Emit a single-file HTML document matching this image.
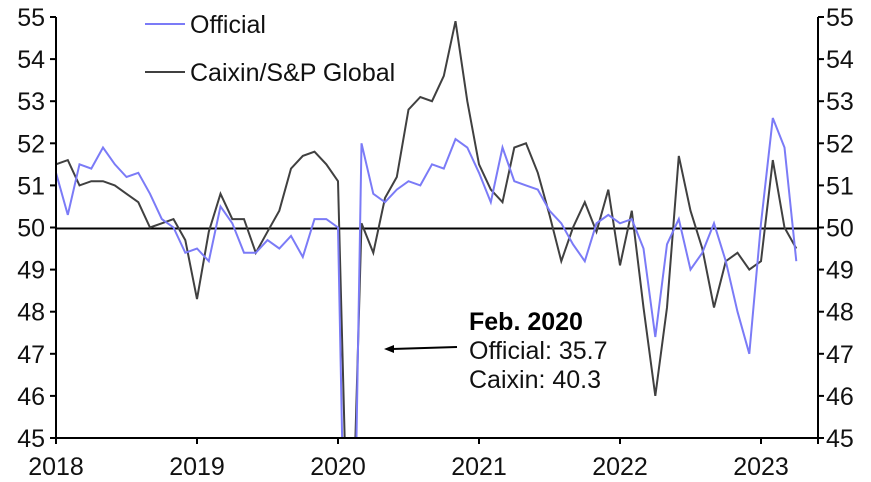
<!DOCTYPE html>
<html><head><meta charset="utf-8"><style>
html,body{margin:0;padding:0;background:#fff;overflow:hidden;width:871px;height:482px;}
svg{display:block;font-family:"Liberation Sans",sans-serif;}
</style></head><body>
<svg id="c" width="871" height="482" xmlns="http://www.w3.org/2000/svg"></svg>
<script>
const off=[51.3,50.3,51.5,51.4,51.9,51.5,51.2,51.3,50.8,50.2,50.0,49.4,
49.5,49.2,50.5,50.1,49.4,49.4,49.7,49.5,49.8,49.3,50.2,50.2,
50.0,35.7,52.0,50.8,50.6,50.9,51.1,51.0,51.5,51.4,52.1,51.9,
51.3,50.6,51.9,51.1,51.0,50.9,50.4,50.1,49.6,49.2,50.1,50.3,
50.1,50.2,49.5,47.4,49.6,50.2,49.0,49.4,50.1,49.2,48.0,47.0,
50.1,52.6,51.9,49.2];
const cx=[51.5,51.6,51.0,51.1,51.1,51.0,50.8,50.6,50.0,50.1,50.2,49.7,
48.3,49.9,50.8,50.2,50.2,49.4,49.9,50.4,51.4,51.7,51.8,51.5,
51.1,40.3,50.1,49.4,50.7,51.2,52.8,53.1,53.0,53.6,54.9,53.0,
51.5,50.9,50.6,51.9,52.0,51.3,50.3,49.2,50.0,50.6,49.9,50.9,
49.1,50.4,48.1,46.0,48.1,51.7,50.4,49.5,48.1,49.2,49.4,49.0,
49.2,51.6,50.0,49.5];
const X=i=>56+i*141/12, Y=v=>438-(v-45)*42.1;
let s='<defs><clipPath id="cp"><rect x="56" y="10" width="762" height="428"/></clipPath></defs>';
const pts=a=>a.map((v,i)=>X(i).toFixed(1)+','+Y(v).toFixed(1)).join(' ');
s+='<line x1="56" y1="228.5" x2="818" y2="228.5" stroke="#000" stroke-width="2"/>';
s+='<g clip-path="url(#cp)"><polyline points="'+pts(cx)+'" fill="none" stroke="#404040" stroke-width="2"/>';
s+='<polyline points="'+pts(off)+'" fill="none" stroke="#7b7bf7" stroke-width="2"/></g>';
s+='<line x1="56" y1="17" x2="56" y2="439" stroke="#000" stroke-width="2"/>';
s+='<line x1="818" y1="17" x2="818" y2="439" stroke="#000" stroke-width="2"/>';
s+='<line x1="55" y1="438" x2="819" y2="438" stroke="#000" stroke-width="2"/>';
for(let v=45;v<=55;v++){const y=Y(v);
 s+='<line x1="50" y1="'+y+'" x2="56" y2="'+y+'" stroke="#000" stroke-width="2"/>';
 s+='<line x1="818" y1="'+y+'" x2="824" y2="'+y+'" stroke="#000" stroke-width="2"/>';
 s+='<text x="45" y="'+(y+9)+'" font-size="25" text-anchor="end" fill="#111">'+v+'</text>';
 s+='<text x="826" y="'+(y+9)+'" font-size="25" fill="#111">'+v+'</text>';}
for(let k=0;k<6;k++){const x=56+k*141;
 s+='<line x1="'+x+'" y1="438" x2="'+x+'" y2="444" stroke="#000" stroke-width="2"/>';
 s+='<text x="'+x+'" y="475" font-size="25" text-anchor="middle" fill="#111">'+(2018+k)+'</text>';}
s+='<line x1="818" y1="438" x2="818" y2="444" stroke="#000" stroke-width="2"/>';
s+='<line x1="145" y1="24" x2="185" y2="24" stroke="#7b7bf7" stroke-width="2"/>';
s+='<text x="190" y="33" font-size="25" fill="#111">Official</text>';
s+='<line x1="145" y1="72" x2="185" y2="72" stroke="#404040" stroke-width="2"/>';
s+='<text x="190" y="81" font-size="25" fill="#111">Caixin/S&amp;P Global</text>';
s+='<line x1="457" y1="347" x2="392" y2="349" stroke="#000" stroke-width="2"/>';
s+='<path d="M384,349 L394,345 L394,353 Z" fill="#000"/>';
s+='<text x="469" y="330" font-size="25" font-weight="bold" fill="#000">Feb. 2020</text>';
s+='<text x="469" y="359" font-size="25" fill="#111">Official: 35.7</text>';
s+='<text x="469" y="388" font-size="25" fill="#111">Caixin: 40.3</text>';
document.getElementById('c').innerHTML=s;
</script>
</body></html>
